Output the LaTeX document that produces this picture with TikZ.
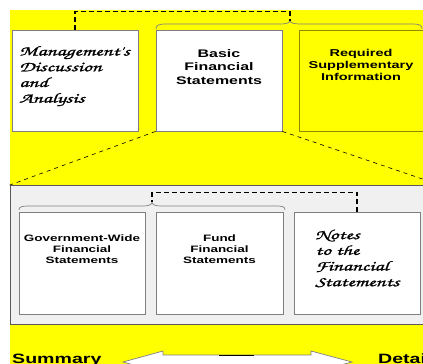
\documentclass[tikz,border=0pt]{standalone}
\usepackage{fontspec}
\setmainfont{Liberation Sans}
\newfontfamily\wsans[FakeStretch=1.45]{Liberation Sans}
\newfontfamily\scrf[FakeStretch=1.55,FakeBold=1.2]{texgyrechorus-mediumitalic.otf}
\definecolor{boxgray}{HTML}{7F7F7F}
\definecolor{panelfill}{HTML}{F0F0F0}
\definecolor{panelline}{HTML}{5A5A5A}
\definecolor{olive}{HTML}{8C8C00}
\definecolor{yel}{HTML}{FFFF00}
\tikzset{
  box/.style={draw=boxgray, line width=0.8pt, fill=white, minimum width=126pt, minimum height=101pt, inner sep=0pt},
  boldtxt/.style={inner sep=0pt, align=center, anchor=north},
  scrtxt/.style={inner sep=0pt, align=left, anchor=north west, font=\scrf\fontsize{14}{15.7}\selectfont},
  condash/.style={draw=black, line width=1.3pt, dash pattern=on 5pt off 3pt},
  diag/.style={draw=black, line width=0.6pt, dash pattern=on 4pt off 4pt},
  bracesty/.style={draw=boxgray, line width=0.7pt},
}
\begin{document}
\begin{tikzpicture}[x=1pt,y=-1pt]
\useasboundingbox (0,0) rectangle (423,364);
\clip (0,0) rectangle (423,364);
\fill[white] (0,0) rectangle (423,364);
\fill[yel] (10,10) rectangle (440,380);
% top row
\node[box] (mda) at (75,80.5) {};
\node[box] (bfs) at (219,80.5) {};
\node[box, fill=yel, draw=olive] (rsi) at (362,80.5) {};
\node[scrtxt] (mdat) at (19,46) {Management's\\Discussion\\and\\Analysis};
\node[boldtxt, font=\wsans\bfseries\fontsize{11}{13.5}\selectfont] (bfst) at (219,49) {Basic\\Financial\\Statements};
\node[boldtxt, font=\wsans\bfseries\fontsize{10}{12}\selectfont] (rsit) at (361,49.5) {Required\\Supplementary\\Information};
% top brace and connector
\coordinate (tb) at (290,20.5);
\draw[bracesty] (156,29) .. controls (156,25.5) and (158,24) .. (166,24) -- (280,24) .. controls (286,24) and (290,23) .. (tb) .. controls (290,23) and (294,24) .. (300,24) -- (412,24) .. controls (420,24) and (422,25.5) .. (422,29);
\draw[condash] (mda.north) -- ++(0,-18) -| (tb);
% detail panel
\node[draw=panelline, fill=panelfill, line width=0.8pt, minimum width=430pt, minimum height=138.5pt, inner sep=0pt] (panel) at (225,254.75) {};
\draw[diag] (bfs.south west) -- (panel.north west);
\draw[diag] (bfs.south east) -- (panel.north east);
% bottom row
\node[box, minimum height=101.5pt] (gw) at (82,263.25) {};
\node[box, minimum width=127pt, minimum height=101.5pt] (fund) at (219.5,263.25) {};
\node[box, minimum height=101.5pt] (notes) at (357,263.25) {};
\node[boldtxt, font=\wsans\bfseries\fontsize{9.3}{11}\selectfont] (gwt) at (82,234.5) {Government-Wide\\Financial\\Statements};
\node[boldtxt, font=\wsans\bfseries\fontsize{9.3}{11}\selectfont] (fundt) at (219.5,234.5) {Fund\\Financial\\Statements};
\node[scrtxt] (notest) at (315,229.5) {Notes\\to the\\Financial\\Statements};
% inner brace and connector
\coordinate (ib) at (152,202);
\draw[bracesty] (19,210) .. controls (19,207) and (21,206) .. (29,206) -- (143,206) .. controls (148,206) and (152,205) .. (ib) .. controls (152,205) and (156,206) .. (161,206) -- (276,206) .. controls (283,206) and (285,207) .. (285,210);
\draw[condash] (notes.north) -- ++(0,-19.5) -| (ib);
% bottom arrow and labels
\draw[boxgray, fill=white, line width=0.7pt] (123,362) -- (163,351) -- (163,355) -- (311,355) -- (311,351) -- (352,362) -- (311,373) -- (311,369) -- (163,369) -- (163,373) -- cycle;
\draw[black, line width=1pt] (219,355) -- (254,355);
\node[anchor=base west, inner sep=0pt, font=\wsans\bfseries\fontsize{13.5}{16}\selectfont] (sum) at (12,363) {Summary};
\node[anchor=base west, inner sep=0pt, font=\wsans\bfseries\fontsize{13.5}{16}\selectfont] (det) at (378,363) {Details};
\end{tikzpicture}
\end{document}
